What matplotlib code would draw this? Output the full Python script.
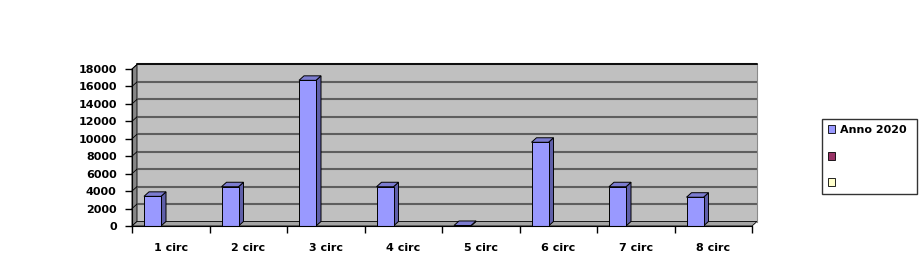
import matplotlib
matplotlib.use('Agg')
import matplotlib.pyplot as plt
from matplotlib.patches import Polygon, Patch

# data
categories = ['1 circ', '2 circ', '3 circ', '4 circ', '5 circ', '6 circ', '7 circ', '8 circ']
anno_2020 = [3400, 4500, 16700, 4500, 60, 9600, 4500, 3300]
series_names = ['Anno 2020', '', '']
series_colors = ['#9999ff', '#993366', '#ffffcc']
y_ticks = list(range(0, 18001, 2000))

W, H = 922, 272
fig = plt.figure(figsize=(W / 100, H / 100), dpi=100)
ax_px = [132, 226, 620, 157]  # left, bottom(img y), width, height in pixels
ax = fig.add_axes([ax_px[0] / W, 1 - ax_px[1] / H, ax_px[2] / W, ax_px[3] / H])
ax.set_xlim(0, len(categories))
ax.set_ylim(0, 18000)
ax.patch.set_visible(False)

# depth offset of the fake 3d, converted from pixels to data units
ddx = 5 * len(categories) / ax_px[2]
ddy = 4.5 * 18000 / ax_px[3]
n = len(categories)
top = 18000

# walls
ax.add_patch(Polygon([(ddx, ddy), (n + ddx, ddy), (n + ddx, top + ddy), (ddx, top + ddy)],
                     closed=True, fc='#c0c0c0', ec='none', clip_on=False, zorder=0))
ax.add_patch(Polygon([(0, 0), (ddx, ddy), (ddx, top + ddy), (0, top)],
                     closed=True, fc='#868686', ec='black', lw=0.6, clip_on=False, zorder=1))
ax.add_patch(Polygon([(0, 0), (n, 0), (n + ddx, ddy), (ddx, ddy)],
                     closed=True, fc='#a4a4a4', ec='black', lw=0.6, clip_on=False, zorder=1))
for v in y_ticks[1:]:
    ax.plot([ddx, n + ddx], [v + ddy, v + ddy], color='#5e5e5e', lw=1.5, zorder=1,
            clip_on=False, solid_capstyle='butt')
    ax.plot([0, ddx], [v, v + ddy], color='black', lw=0.6, zorder=1, clip_on=False)
ax.plot([n + ddx, n + ddx], [ddy, top + ddy], color='#8a8a8a', lw=0.8, zorder=1, clip_on=False)
ax.plot([ddx, n + ddx], [top + ddy, top + ddy], color='black', lw=1.2, zorder=2, clip_on=False)

# bars
bw = 17 / (ax_px[2] / n)
off = 12 / (ax_px[2] / n)
for i, v in enumerate(anno_2020):
    x0 = i + off
    ax.add_patch(Polygon([(x0 + bw, 0), (x0 + bw + ddx, ddy), (x0 + bw + ddx, v + ddy), (x0 + bw, v)],
                         closed=True, fc='#5f5fa8', ec='black', lw=0.7, zorder=3))
    ax.add_patch(Polygon([(x0, v), (x0 + bw, v), (x0 + bw + ddx, v + ddy), (x0 + ddx, v + ddy)],
                         closed=True, fc='#7c7cd0', ec='black', lw=0.7, zorder=3))
    ax.bar(x0, v, width=bw, align='edge', color=series_colors[0], edgecolor='black', lw=0.7, zorder=4)

# axes
for s in ['top', 'right']:
    ax.spines[s].set_visible(False)
ax.spines['left'].set_zorder(5)
ax.spines['bottom'].set_zorder(5)
ax.set_yticks(y_ticks)
ax.set_yticklabels([str(t) for t in y_ticks], fontsize=8, fontweight='bold', family='DejaVu Sans')
ax.tick_params(axis='y', length=5, width=1, pad=6, direction='out')
ax.set_xticks(range(n + 1))
ax.set_xticklabels([])
ax.tick_params(axis='x', which='major', length=5, width=1, direction='out')
ax.set_xticks([i + 0.5 for i in range(n)], minor=True)
ax.set_xticklabels(categories, minor=True, fontsize=8, fontweight='bold', family='DejaVu Sans')
ax.tick_params(axis='x', which='minor', length=0, pad=12.5)

# legend
handles = [Patch(fc=c, ec='black', lw=0.6) for c in series_colors]
leg = fig.legend(handles, series_names, loc='upper left',
                 bbox_to_anchor=(822 / W, 1 - 122 / H, 95 / W, 0.01), mode='expand',
                 frameon=True, fancybox=False, edgecolor='black', borderaxespad=0,
                 handlelength=0.7, handleheight=0.7, handletextpad=0.4, labelspacing=1.5,
                 borderpad=0.5, prop={'family': 'DejaVu Sans', 'weight': 'bold', 'size': 8})
leg.get_frame().set_linewidth(1)

fig.savefig('out.png', dpi=100)
